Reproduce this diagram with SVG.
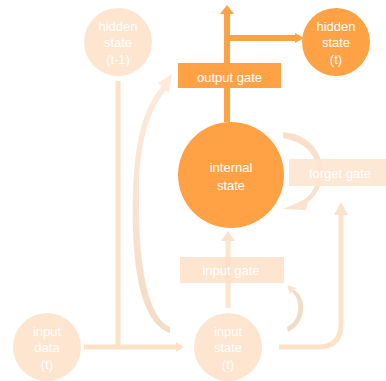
<svg xmlns="http://www.w3.org/2000/svg" width="386" height="381" viewBox="0 0 386 381">
<defs>
<style>
.dark{fill:#FFA246}
.light{fill:#FDE5D0}
.t{font-family:"Liberation Sans","Open Sans",sans-serif;font-size:13px;fill:#FFFFFF;text-anchor:middle}
.ln{stroke:#FDE2CA;stroke-width:5;fill:none}
.dl{stroke:#FFA246;stroke-width:6;fill:none}
</style>
<linearGradient id="g1" x1="0" y1="1" x2="0" y2="0">
<stop offset="0" stop-color="#F3DCC6"/>
<stop offset="1" stop-color="#FEEADA"/>
</linearGradient>
</defs>
<rect width="386" height="381" fill="#FFFFFF"/>
<g id="connectors">
<line class="ln" x1="118" y1="81" x2="118" y2="347"/>
<line class="ln" x1="84" y1="347" x2="177" y2="347"/>
<polygon points="184,347 176,342 176,352" fill="#FDE2CA"/>
<path d="M170,333 C139,322 131,262 133,192 C135,134 146,104 162,86 L166,90 C151,108 139,138 139,192 C138,262 147,317 170,327 Z" fill="url(#g1)"/>
<polygon points="172,74 158,83 169,93" fill="#FEEADA"/>
<line class="dl" x1="227" y1="122" x2="227" y2="14"/>
<polygon points="227,5 220,14 234,14" class="dark"/>
<line class="dl" x1="227" y1="38" x2="296" y2="38"/>
<polygon points="304,38 295,33 295,43" class="dark"/>
<line class="ln" x1="228" y1="308" x2="228" y2="240" opacity="0.9"/>
<polygon points="228,231 221,241 235,241" fill="#FDE2CA"/>
<path class="ln" d="M279,347 L318,347 Q341,347 341,324 L341,214"/>
<polygon points="341,202 334,215 348,215" fill="#FDE2CA"/>
</g>
<g id="forget-loop">
<path d="M283,132 C312,134 326,158 322,178 C319,193 312,202 300,205 L299,202 C309,198 315,190 317,178 C320,160 308,142 283,138 Z" fill="#F8E0CA"/>
<polygon points="283,209 309,198 306,210" fill="#FBE3CE"/>
</g>
<g id="output-gate">
<rect x="178" y="63" width="103" height="25" class="dark"/>
<text class="t" x="229.5" y="82">output gate</text>
</g>
<g id="hidden-state-t-1">
<circle cx="118" cy="42" r="34" class="light"/>
<text class="t" x="118" y="31">hidden</text>
<text class="t" x="118" y="47">state</text>
<text class="t" x="118" y="64">(t-1)</text>
</g>
<g id="hidden-state-t">
<circle cx="336" cy="42" r="34" class="dark"/>
<text class="t" x="336" y="31">hidden</text>
<text class="t" x="336" y="47">state</text>
<text class="t" x="336" y="64">(t)</text>
</g>
<g id="internal-state">
<circle cx="231" cy="175" r="53" class="dark"/>
<text class="t" x="231" y="172">internal</text>
<text class="t" x="231" y="190">state</text>
</g>
<g id="forget-gate">
<rect x="289" y="159" width="97" height="27" fill="#FDE5D0" opacity="0.9"/>
<text class="t" x="340" y="178">forget gate</text>
</g>
<g id="input-gate">
<rect x="180" y="257" width="104" height="26" class="light"/>
<line x1="228" y1="257" x2="228" y2="283" stroke="#FCDCC0" stroke-width="5" opacity="0.6"/>
<text class="t" x="231" y="275">input gate</text>
</g>
<g id="input-loop">
<path d="M293,289 C301,294 304,302 303,310 C302,321 296,328 288,332 L287,327 C294,323 298,317 298,310 C299,303 297,296 291,291 Z" fill="#F3DCC6"/>
<polygon points="287,285 296,288 290,294" fill="#FCE4D0"/>
</g>
<g id="input-data">
<circle cx="47" cy="347" r="34" class="light"/>
<text class="t" x="47" y="336">input</text>
<text class="t" x="47" y="352">data</text>
<text class="t" x="47" y="369">(t)</text>
</g>
<g id="input-state">
<circle cx="228" cy="347" r="34" class="light"/>
<text class="t" x="228" y="336">input</text>
<text class="t" x="228" y="352">state</text>
<text class="t" x="228" y="369">(t)</text>
</g>
</svg>
